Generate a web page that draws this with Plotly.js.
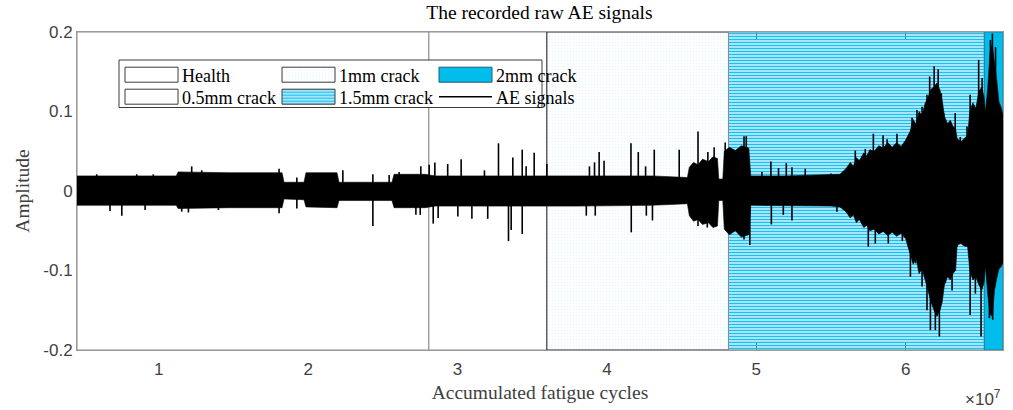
<!DOCTYPE html>
<html><head><meta charset="utf-8">
<script src="https://cdn.plot.ly/plotly-3.0.1.min.js"></script>
<style>html,body{margin:0;padding:0;background:#fff}</style>
</head><body>
<div id="chart" style="width:1013px;height:410px"></div>
<script>
// ---- data (x in units of 1e7 cycles) ----
const regionNames = ['Health', '0.5mm crack', '1mm crack', '1.5mm crack', '2mm crack'];
const regionStart = [0.452, 2.808, 3.598, 4.814, 6.527];
const regionEnd   = [2.808, 3.598, 4.814, 6.527, 6.652];
const ampRange = [-0.2, 0.2];

// envelope of the dense AE signal (upper / lower edge of the solid black band)
const envX  = [0.452, 1.116, 1.129, 1.477, 1.825, 1.838, 1.972, 1.985, 2.193, 2.206, 2.561, 2.575, 2.783, 2.85, 3.3, 3.8, 4.3, 4.539, 4.552, 4.58, 4.61, 4.64, 4.68, 4.71, 4.74, 4.749, 4.776, 4.786, 4.82, 4.86, 4.90, 4.95, 4.963, 5.2, 5.5, 5.56, 5.60, 5.63, 5.65, 5.67, 5.69, 5.72, 5.74, 5.76, 5.79, 5.82, 5.85, 5.88, 5.91, 5.94, 5.97, 6.00, 6.03, 6.05, 6.07, 6.09, 6.11, 6.13, 6.15, 6.17, 6.19, 6.21, 6.23, 6.245, 6.26, 6.28, 6.30, 6.32, 6.335, 6.345, 6.37, 6.39, 6.415, 6.43, 6.45, 6.47, 6.49, 6.51, 6.525, 6.535, 6.55, 6.565, 6.58, 6.595, 6.61, 6.625, 6.64, 6.652];
const envUp = [0.019, 0.019, 0.024, 0.023, 0.023, 0.011, 0.011, 0.023, 0.023, 0.011, 0.011, 0.021, 0.021, 0.019, 0.019, 0.019, 0.019, 0.017, 0.030, 0.036, 0.033, 0.040, 0.037, 0.043, 0.041, 0.015, 0.015, 0.050, 0.055, 0.051, 0.057, 0.054, 0.019, 0.019, 0.020, 0.021, 0.028, 0.036, 0.031, 0.042, 0.038, 0.048, 0.044, 0.052, 0.050, 0.057, 0.054, 0.061, 0.055, 0.061, 0.056, 0.064, 0.075, 0.090, 0.084, 0.100, 0.095, 0.110, 0.118, 0.128, 0.131, 0.136, 0.127, 0.114, 0.094, 0.085, 0.089, 0.080, 0.078, 0.066, 0.062, 0.066, 0.070, 0.100, 0.111, 0.104, 0.125, 0.131, 0.118, 0.100, 0.130, 0.175, 0.185, 0.160, 0.140, 0.112, 0.105, 0.095];
const envLo = [-0.018, -0.018, -0.022, -0.021, -0.021, -0.010, -0.011, -0.020, -0.021, -0.012, -0.012, -0.021, -0.021, -0.019, -0.019, -0.019, -0.018, -0.016, -0.031, -0.038, -0.036, -0.042, -0.040, -0.046, -0.044, -0.012, -0.012, -0.048, -0.055, -0.050, -0.058, -0.055, -0.018, -0.018, -0.019, -0.020, -0.026, -0.034, -0.030, -0.040, -0.036, -0.046, -0.043, -0.050, -0.048, -0.054, -0.051, -0.056, -0.052, -0.057, -0.053, -0.060, -0.080, -0.092, -0.085, -0.104, -0.098, -0.112, -0.125, -0.140, -0.150, -0.158, -0.150, -0.140, -0.118, -0.108, -0.112, -0.103, -0.100, -0.068, -0.066, -0.069, -0.070, -0.100, -0.112, -0.108, -0.118, -0.125, -0.115, -0.095, -0.130, -0.155, -0.158, -0.125, -0.110, -0.098, -0.095, -0.090];

// isolated bursts above / below the band
const spikeUpX = [0.584, 0.852, 0.963, 1.220, 1.287, 1.466, 1.644, 1.805, 1.924, 2.232, 2.433, 2.542, 2.609, 2.754, 2.810, 2.848, 2.934, 3.024, 3.180, 3.274, 3.370, 3.433, 3.459, 3.513, 3.598, 3.883, 3.917, 3.948, 3.981, 4.161, 4.210, 4.259, 4.317, 4.484, 4.610, 4.676, 4.718, 4.792, 4.918, 4.933, 5.038, 5.098, 5.149, 5.201, 5.239, 5.328, 5.500, 5.663, 5.730, 5.784, 5.849, 5.876, 5.942, 6.043, 6.076, 6.110, 6.143, 6.161, 6.177, 6.191, 6.218, 6.239, 6.255, 6.300, 6.322, 6.332, 6.366, 6.411, 6.432, 6.455, 6.489, 6.512, 6.568, 6.581, 6.602];
const spikeUpY = [0.021, 0.021, 0.021, 0.031, 0.026, 0.022, 0.021, 0.028, 0.017, 0.026, 0.021, 0.020, 0.024, 0.031, 0.033, 0.036, 0.034, 0.040, 0.026, 0.060, 0.042, 0.052, 0.031, 0.048, 0.034, 0.031, 0.036, 0.049, 0.038, 0.060, 0.049, 0.031, 0.052, 0.052, 0.075, 0.049, 0.055, 0.061, 0.069, 0.069, 0.024, 0.037, 0.029, 0.035, 0.030, 0.028, 0.022, 0.051, 0.053, 0.072, 0.070, 0.065, 0.072, 0.092, 0.102, 0.106, 0.121, 0.144, 0.127, 0.157, 0.153, 0.123, 0.098, 0.085, 0.081, 0.098, 0.068, 0.081, 0.121, 0.104, 0.165, 0.142, 0.190, 0.198, 0.181];
const spikeDnX = [0.673, 0.752, 0.908, 1.153, 1.198, 1.399, 1.805, 1.924, 2.433, 2.721, 2.750, 2.837, 2.870, 3.002, 3.096, 3.202, 3.341, 3.359, 3.433, 3.862, 3.922, 4.163, 4.264, 4.305, 4.610, 4.672, 4.918, 4.957, 5.101, 5.181, 5.239, 5.540, 5.750, 5.797, 5.884, 5.978, 6.032, 6.066, 6.110, 6.143, 6.166, 6.199, 6.226, 6.266, 6.311, 6.344, 6.400, 6.432, 6.467, 6.505, 6.561, 6.583];
const spikeDnY = [-0.025, -0.031, -0.024, -0.026, -0.027, -0.024, -0.028, -0.022, -0.044, -0.030, -0.030, -0.041, -0.034, -0.032, -0.035, -0.035, -0.063, -0.049, -0.054, -0.031, -0.031, -0.052, -0.031, -0.037, -0.044, -0.046, -0.061, -0.068, -0.042, -0.030, -0.037, -0.026, -0.070, -0.066, -0.066, -0.063, -0.108, -0.091, -0.120, -0.150, -0.175, -0.175, -0.183, -0.116, -0.125, -0.070, -0.066, -0.156, -0.129, -0.183, -0.160, -0.162];

const xTickVals = [1, 2, 3, 4, 5, 6];
const xTickText = ['1', '2', '3', '4', '5', '6'];
const yTickVals = [-0.2, -0.1, 0, 0.1, 0.2];
const yTickText = ['-0.2', '-0.1', '0', '0.1', '0.2'];

// ---- styles ----
const regionStyle = [
  {line: '#8c8c8c', fill: '#ffffff', legend: 'legend', swatchBorder: '#3a3a3a'},
  {line: '#8c8c8c', fill: '#ffffff', legend: 'legend2', swatchBorder: '#3a3a3a'},
  {line: '#262626', fill: '#ffffff', legend: 'legend', swatchBorder: '#3a3a3a',
   pattern: {shape: '.', fgcolor: '#eef9fd', bgcolor: '#ffffff', size: 3, solidity: 0.3}},
  {line: '#8c8c8c', fill: 'rgba(0,0,0,0)', legend: 'legend2', swatchBorder: '#3a3a3a',
   pattern: {shape: '-', fgcolor: '#1cc0ee', bgcolor: 'rgba(120,215,245,0.35)', size: 3, solidity: 0.5}},
  {line: '#1f7f9f', fill: '#00bdec', legend: 'legend', swatchBorder: '#1a5f78'}
];

const traces = [];
for (let i = 0; i < regionNames.length; i++) {
  const s = regionStart[i], e = regionEnd[i], st = regionStyle[i];
  const t = {
    type: 'scatter', mode: 'lines', name: regionNames[i],
    x: [s, e, e, s, s], y: [ampRange[0], ampRange[0], ampRange[1], ampRange[1], ampRange[0]],
    fill: 'toself', fillcolor: st.fill,
    line: {color: st.line, width: 1},
    legend: st.legend, hoverinfo: 'skip'
  };
  if (st.pattern) t.fillpattern = st.pattern;
  traces.push(t);
}

// dense signal band
traces.push({
  type: 'scatter', mode: 'lines', name: 'AE band', showlegend: false,
  x: envX.concat(envX.slice().reverse()),
  y: envUp.concat(envLo.slice().reverse()),
  fill: 'toself', fillcolor: '#000000',
  line: {color: '#000000', width: 0.6}, hoverinfo: 'skip'
});

// bursts
const sx = [], sy = [];
spikeUpX.forEach((x, i) => { sx.push(x, x, null); sy.push(0, spikeUpY[i], null); });
spikeDnX.forEach((x, i) => { sx.push(x, x, null); sy.push(0, spikeDnY[i], null); });
traces.push({
  type: 'scatter', mode: 'lines', name: 'AE signals',
  x: sx, y: sy, line: {color: '#000000', width: 1.6},
  legend: 'legend2', hoverinfo: 'skip', connectgaps: false
});

const serif = 'Liberation Serif, Times New Roman, serif';
const sans = 'Liberation Sans, Arial, sans-serif';
const axisCommon = {
  showline: true, linecolor: '#9a9a9a', linewidth: 1, mirror: 'ticks',
  ticks: 'inside', ticklen: 7, tickcolor: '#303030', tickwidth: 1,
  showgrid: false, zeroline: false, layer: 'below traces',
  tickfont: {family: sans, size: 17, color: '#404040'}
};

const pw = 926, ph = 318;
const legendCommon = {
  orientation: 'h', xanchor: 'left', yanchor: 'middle',
  bgcolor: 'rgba(0,0,0,0)', borderwidth: 0, itemwidth: 50,
  entrywidth: 92, entrywidthmode: 'pixels', traceorder: 'normal',
  font: {family: serif, size: 18, color: '#000000'}
};
const layout = {
  width: 1013, height: 410,
  margin: {l: 77, r: 10, t: 32, b: 60},
  paper_bgcolor: '#ffffff', plot_bgcolor: '#ffffff',
  showlegend: true,
  title: {text: 'The recorded raw AE signals', x: 0.5325, xanchor: 'center',
          y: 0.970, yanchor: 'middle', yref: 'container',
          font: {family: serif, size: 19.5, color: '#000000'}},
  xaxis: Object.assign({}, axisCommon, {
    range: [regionStart[0], regionEnd[regionEnd.length - 1]],
    tickvals: xTickVals, ticktext: xTickText, ticklabelstandoff: 4,
    title: {text: 'Accumulated fatigue cycles', standoff: 6,
            font: {family: serif, size: 19.5, color: '#404040'}}
  }),
  yaxis: Object.assign({}, axisCommon, {
    range: ampRange, tickvals: yTickVals, ticktext: yTickText,
    title: {text: 'Amplitude', standoff: 8,
            font: {family: serif, size: 19.5, color: '#404040'}}
  }),
  legend: Object.assign({}, legendCommon, {x: (122 - 77) / pw, y: (350 - 75) / ph}),
  legend2: Object.assign({}, legendCommon, {x: (122 - 77) / pw, y: (350 - 97) / ph}),
  shapes: [{
    type: 'rect', xref: 'paper', yref: 'paper', layer: 'above',
    x0: (119 - 77) / pw, x1: (542 - 77) / pw, y0: (350 - 107.5) / ph, y1: (350 - 60) / ph,
    line: {color: '#3a3a3a', width: 1}, fillcolor: '#ffffff'
  }],
  annotations: [{
    text: '×10<sup>7</sup>', xref: 'paper', yref: 'paper', x: 1, xanchor: 'right',
    y: (350 - 398) / ph, yanchor: 'middle', showarrow: false,
    font: {family: sans, size: 17, color: '#404040'}
  }]
};

function fixLegend() {
  // boxed rectangular swatches like the original figure's legend
  const items = document.querySelectorAll('#chart g.traces');
  items.forEach(tr => {
    const txt = tr.querySelector('text');
    if (!txt) return;
    const name = (txt.textContent || '').trim();
    const idx = regionNames.indexOf(name);
    let tx = parseFloat(txt.getAttribute('x'));
    if (!isFinite(tx)) tx = 60;
    const lines = tr.querySelectorAll('path.js-line');
    const fills = tr.querySelectorAll('path.js-fill');
    if (idx >= 0) {
      const rect = 'M' + (tx - 57) + ',-7.5h53v15h-53Z';
      fills.forEach(p => { if (p.getAttribute('d') !== rect) p.setAttribute('d', rect); });
      lines.forEach(p => {
        if (p.getAttribute('d') !== rect) p.setAttribute('d', rect);
        p.style.stroke = regionStyle[idx].swatchBorder;
        p.style.strokeWidth = '1px';
        p.style.fill = 'none';
      });
    } else if (name === 'AE signals') {
      const ln = 'M' + (tx - 57) + ',0h53';
      lines.forEach(p => { if (p.getAttribute('d') !== ln) p.setAttribute('d', ln); });
    }
  });
}

const gd = document.getElementById('chart');
const obs = new MutationObserver(() => fixLegend());
obs.observe(gd, {childList: true, subtree: true});
Plotly.newPlot(gd, traces, layout, {displayModeBar: false, staticPlot: true}).then(() => {
  fixLegend();
  gd.on('plotly_afterplot', fixLegend);
  requestAnimationFrame(fixLegend);
  let n = 0;
  const iv = setInterval(() => { fixLegend(); if (++n > 40) clearInterval(iv); }, 25);
});
</script>
</body></html>
